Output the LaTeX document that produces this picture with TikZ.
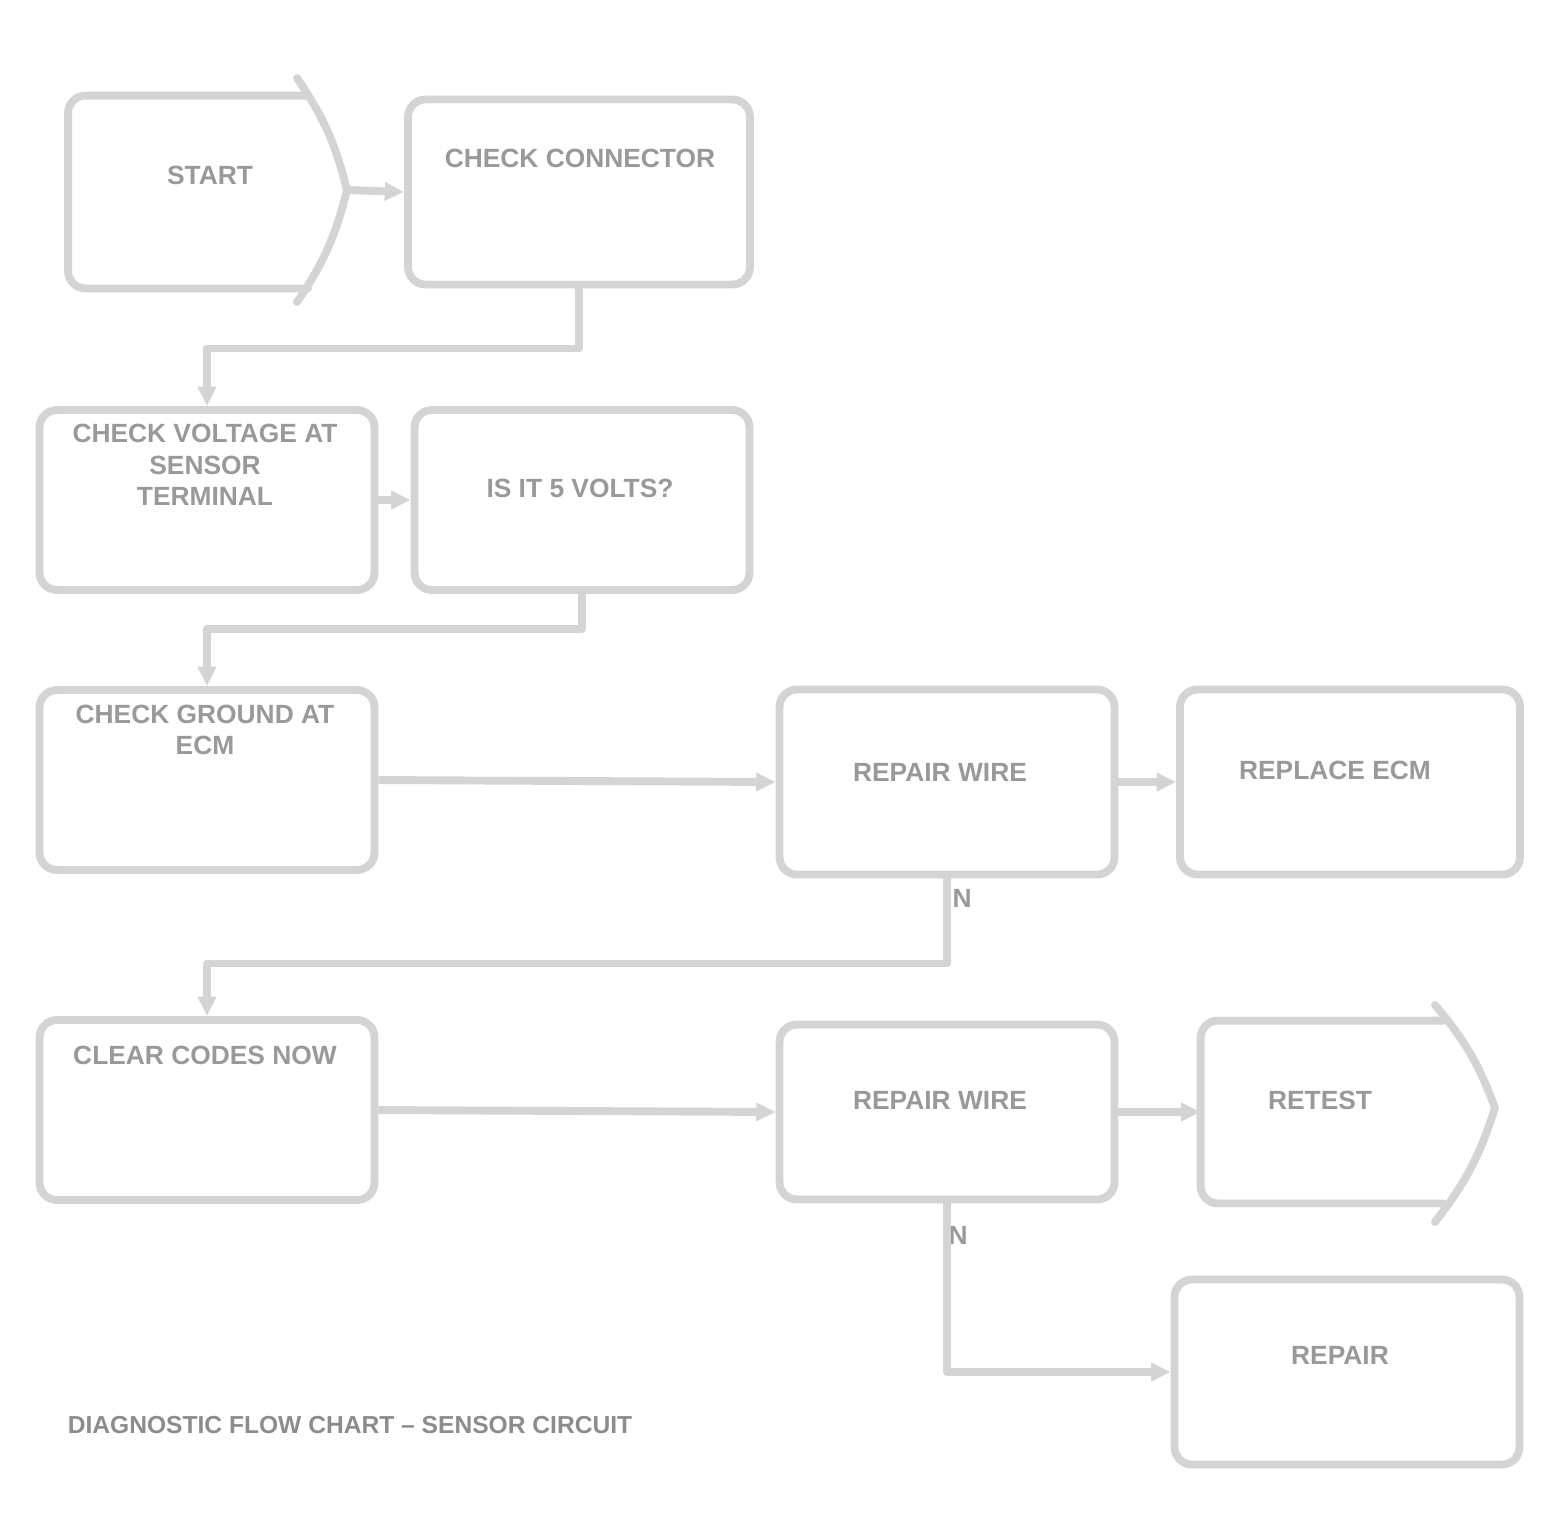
\documentclass[tikz,border=0pt]{standalone}
\usepackage{fontspec}
\setmainfont{Liberation Sans}
\usetikzlibrary{arrows.meta}

\begin{document}
\begin{tikzpicture}
[x=0.02cm,y=-0.02cm,
  lineDecorate/.style={-{Triangle[length=11pt,width=10pt]},line width=4.5pt,draw=black!17,line join=round},%
  plainDecorate/.style={line width=4.5pt,draw=black!17,line cap=round,line join=round},
  nodeDecorate/.style={shape=rectangle,rounded corners=10pt,draw=black!17,line width=4.5pt,inner sep=0pt},
  textDecorate/.style={text=black!40,font=\fontsize{15}{18}\selectfont\bfseries,align=center,inner sep=0pt}]
\useasboundingbox (0,0) rectangle (1557,1539);
%% boxes
\foreach \nodename/\x/\y/\w/\h in {
  B/579/192/342/185,
  C/207/500/335/180,
  D/582/500/335/180,
  E/207/780/335/180,
  F/947/782/335/185,
  G/1350/782/340/185,
  H/207/1110/335/180,
  I/947/1112/335/175,
  K/1347/1372/345/185}
{
  \node (\nodename) at (\x,\y) [nodeDecorate,minimum width=\w*0.02cm,minimum height=\h*0.02cm] {};
}
%% the two pointed boxes
\node (A) at (188,192) [nodeDecorate,draw=none,minimum width=232*0.02cm,minimum height=185*0.02cm] {};
\node (J) at (1322,1112) [nodeDecorate,draw=none,minimum width=235*0.02cm,minimum height=175*0.02cm] {};
\coordinate (Atop) at (297,78);
\coordinate (Atip) at (347,190);
\coordinate (Abot) at (297,302);
\coordinate (Jtop) at (1435,1005);
\coordinate (Jtip) at (1495,1108);
\coordinate (Jbot) at (1435,1222);
\draw[plainDecorate,rounded corners=10pt] (A.north east) -- (A.north west) -- (A.south west) -- (A.south east);
\draw[plainDecorate] (Atop) to[bend left=10] (Atip) to[bend left=10] (Abot);
\draw[plainDecorate,rounded corners=10pt] (J.north east) -- (J.north west) -- (J.south west) -- (J.south east);
\draw[plainDecorate] (Jtop) to[bend left=10] (Jtip) to[bend left=10] (Jbot);
%% texts
\node (Atext) at (210,175) [textDecorate] {START};
\node (Btext) at (580,158) [textDecorate] {CHECK CONNECTOR};
\node (Ctext) at (205,465) [textDecorate] {CHECK VOLTAGE AT\\SENSOR\\TERMINAL};
\node (Dtext) at (580,488) [textDecorate] {IS IT 5 VOLTS?};
\node (Etext) at (205,730) [textDecorate] {CHECK GROUND AT\\ECM};
\node (Ftext) at (940,772) [textDecorate] {REPAIR WIRE};
\node (Gtext) at (1335,770) [textDecorate] {REPLACE ECM};
\node (Htext) at (205,1055) [textDecorate] {CLEAR CODES NOW};
\node (Itext) at (940,1100) [textDecorate] {REPAIR WIRE};
\node (Jtext) at (1320,1100) [textDecorate] {RETEST};
\node (Ktext) at (1340,1355) [textDecorate] {REPAIR};
\node (Nf) at (962,898) [textDecorate] {N};
\node (Ni) at (958,1235) [textDecorate] {N};
\node (caption) at (350,1425) [textDecorate,font=\fontsize{14}{17}\selectfont\bfseries,text=black!45] {DIAGNOSTIC FLOW CHART -- SENSOR CIRCUIT};
%% connectors
\draw[lineDecorate] (Atip) -- (B.west);
\draw[lineDecorate] (B.south) -- ++(0,60) -| (C.north);
\draw[lineDecorate] (C.east) -- (D.west);
\draw[lineDecorate] (D.south) -- ++(0,35) -| (E.north);
\draw[lineDecorate] (E.east) -- (F.west);
\draw[lineDecorate] (F.east) -- (G.west);
\draw[lineDecorate] (F.south) -- ++(0,85) -| (H.north);
\draw[lineDecorate] (H.east) -- (I.west);
\draw[lineDecorate] (I.east) -- (J.west);
\draw[lineDecorate] (I.south) |- (K.west);
\end{tikzpicture}
\end{document}
